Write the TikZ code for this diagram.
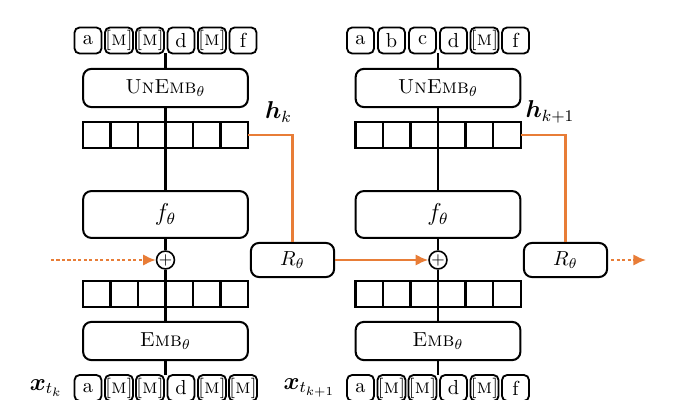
\documentclass[tikz,border=0pt]{standalone}
\usepackage{amsmath}
\usetikzlibrary{arrows.meta, positioning, calc}
\definecolor{recur}{RGB}{232,125,55}
\newcommand{\msk}{\textsc{[m]}}

\begin{document}
\begin{tikzpicture}[x=0.0173cm, y=-0.0173cm,
    token/.style={draw, line width=0.9pt, rounded corners=2.5pt, minimum width=0.467cm, minimum height=0.45cm, inner sep=0pt, outer sep=0pt},
    block/.style={draw, line width=1pt, rounded corners=4pt, minimum width=2.85cm, minimum height=0.66cm, inner sep=0pt},
    fblock/.style={block, minimum height=0.81cm, font=\large},
    rblock/.style={draw, line width=1pt, rounded corners=4pt, minimum width=1.44cm, minimum height=0.59cm, inner sep=0pt},
    cell/.style={draw, line width=1pt, minimum width=0.476cm, minimum height=0.45cm, inner sep=0pt, outer sep=0pt},
    add/.style={circle, draw, line width=0.8pt, fill=white, minimum size=0.31cm, inner sep=0pt, font=\footnotesize},
    link/.style={line width=1pt},
    state/.style={recur, line width=1.1pt},
    arrow/.style={state, -{Latex[length=2.2mm, width=2mm]}},
    future/.style={arrow, dash pattern=on 1.5pt off 1.2pt}]
    \useasboundingbox (0,0) rectangle (690,400);

    % step k
    \foreach \t [count=\i] in {a,\msk,\msk,d,\msk,f}
        \node [token] (out1-\i) at (57+31*\i, 40.5) {\t};
    \foreach \t [count=\i] in {a,\msk,\msk,d,\msk,\msk}
        \node [token] (in1-\i) at (57+31*\i, 388) {\t};
    \foreach \i in {1,...,6} {
        \node [cell] (hid1-\i) at (69.25+27.5*\i, 135) {};
        \node [cell] (vec1-\i) at (69.25+27.5*\i, 294) {};
    }
    \node [block] (unemb1) at (165.5,88) {\textsc{UnEmb}$_\theta$};
    \node [fblock] (f1) at (165.5,214.5) {$f_\theta$};
    \node [add] (add1) at (165.5,260) {$+$};
    \node [block] (emb1) at (165.5,341) {\textsc{Emb}$_\theta$};
    \node [rblock] (rec1) at (292.5,260) {$R_\theta$};

    % step k+1
    \foreach \t [count=\i] in {a,b,c,d,\msk,f}
        \node [token] (out2-\i) at (329.5+31*\i, 40.5) {\t};
    \foreach \t [count=\i] in {a,\msk,\msk,d,\msk,f}
        \node [token] (in2-\i) at (329.5+31*\i, 388) {\t};
    \foreach \i in {1,...,6} {
        \node [cell] (hid2-\i) at (341.75+27.5*\i, 135) {};
        \node [cell] (vec2-\i) at (341.75+27.5*\i, 294) {};
    }
    \node [block] (unemb2) at (438,88) {\textsc{UnEmb}$_\theta$};
    \node [fblock] (f2) at (438,214.5) {$f_\theta$};
    \node [add] (add2) at (438,260) {$+$};
    \node [block] (emb2) at (438,341) {\textsc{Emb}$_\theta$};
    \node [rblock] (rec2) at (565.5,260) {$R_\theta$};

    % labels
    \node [font=\large, inner sep=0pt] (h1) at (278.5,112) {$\boldsymbol{h}_k$};
    \node [font=\large, inner sep=0pt] (h2) at (550,112) {$\boldsymbol{h}_{k+1}$};
    \node [font=\large, inner sep=0pt, left=0.2cm of in1-1] (x1) {$\boldsymbol{x}_{t_k}$};
    \node [font=\large, inner sep=0pt, left=0.2cm of in2-1] (x2) {$\boldsymbol{x}_{t_{k+1}}$};

    % vertical paths
    \foreach \c in {1,2} {
        \draw [link] (unemb\c) -- (unemb\c |- out\c-4.south);
        \draw [link] (unemb\c) -- (f\c);
        \draw [link] (f\c) -- (add\c);
        \draw [link] (add\c) -- (emb\c);
        \draw [link] (emb\c) -- (emb\c |- in\c-4.north);
    }

    % recurrence
    \coordinate (prev) at (51,260);
    \coordinate (next) at (646,260);
    \draw [future] (prev) -- (add1.west);
    \draw [state] (hid1-6.east) -| (rec1.north);
    \draw [arrow] (rec1.east) -- (add2.west);
    \draw [state] (hid2-6.east) -| (rec2.north);
    \draw [future, shorten <=1.5pt] (rec2.east) -- (next);
\end{tikzpicture}
\end{document}
